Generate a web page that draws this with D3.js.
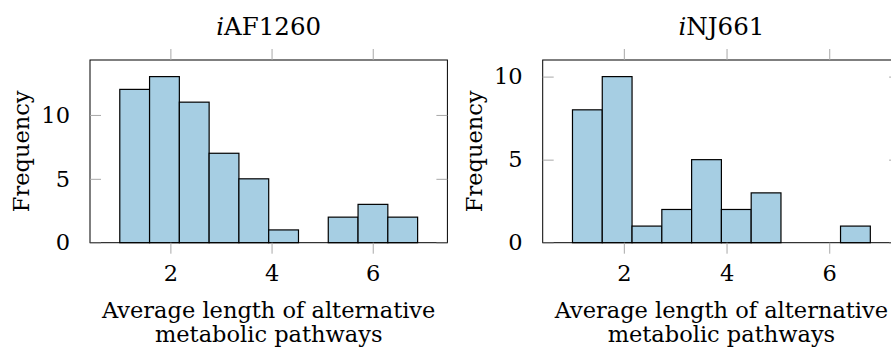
<!DOCTYPE html>
<html>
<head>
<meta charset="utf-8">
<script src="https://cdn.jsdelivr.net/npm/d3@7"></script>
<style>
  html, body { margin: 0; padding: 0; background: #fff; }
  svg { display: block; }
  text { font-family: "DejaVu Serif", "Liberation Serif", serif; fill: #000; }
</style>
</head>
<body>
<svg id="chart" width="891" height="352"></svg>
<script>
// Histogram of average alternative-pathway length, one panel per model
const models = ["AF1260", "NJ661"];
const binRangeAF = [1, 6.887];
const countsAF = [12, 13, 11, 7, 5, 1, 0, 2, 3, 2];
const binRangeNJ = [1, 6.8];
const countsNJ = [8, 10, 1, 2, 5, 2, 3, 0, 0, 1];
const xTicks = [2, 4, 6];
const yTicks = [0, 5, 10];
const xLabelLines = ["Average length of alternative", "metabolic pathways"];
const yLabel = "Frequency";

const svg = d3.select("#chart");
const fontSize = 22.5;
const titleSize = 24.5;

const panels = [
  { name: models[0], range: binRangeAF, counts: countsAF, left: 90 },
  { name: models[1], range: binRangeNJ, counts: countsNJ, left: 542.7 }
];

const plotW = 357.4, plotH = 182.7, plotTop = 60;

panels.forEach(p => {
  const n = p.counts.length;
  const span = p.range[1] - p.range[0];
  const step = span / n;
  const bins = p.counts.map((c, i) => ({ x0: p.range[0] + i * step, x1: p.range[0] + (i + 1) * step, count: c }));

  // pgfplots-style 10% enlargement of the x limits
  const pad = 0.1 * span;
  const x = d3.scaleLinear().domain([p.range[0] - pad, p.range[1] + pad]).range([0, plotW]);
  const yMax = d3.max(p.counts);
  const y = d3.scaleLinear().domain([0, yMax * 1.1]).range([plotH, 0]);

  const g = svg.append("g").attr("transform", `translate(${p.left},${plotTop})`);

  // bars
  g.selectAll("rect.bar").data(bins).join("rect")
    .attr("class", "bar")
    .attr("x", d => x(d.x0))
    .attr("width", d => x(d.x1) - x(d.x0))
    .attr("y", d => y(d.count))
    .attr("height", d => y(0) - y(d.count))
    .attr("fill", "#a6cee3")
    .attr("stroke", "#000")
    .attr("stroke-width", 1.2);

  // frame
  g.append("rect")
    .attr("x", 0).attr("y", 0).attr("width", plotW).attr("height", plotH)
    .attr("fill", "none").attr("stroke", "#000").attr("stroke-width", 1);

  const tickColor = "#a8a8a8";
  const tickLen = 11;

  // x ticks, outside on bottom and top
  const xb = d3.axisBottom(x).tickValues(xTicks).tickSize(tickLen).tickFormat(d3.format("d"));
  const gxb = g.append("g").attr("transform", `translate(0,${plotH})`).call(xb);
  gxb.select(".domain").remove();
  gxb.selectAll(".tick line").attr("stroke", tickColor);
  gxb.selectAll(".tick text")
    .attr("y", 22).attr("dy", "0.71em")
    .style("font-size", fontSize + "px").style("font-family", "DejaVu Serif");

  const xt = d3.axisTop(x).tickValues(xTicks).tickSize(tickLen).tickFormat("");
  const gxt = g.append("g").call(xt);
  gxt.select(".domain").remove();
  gxt.selectAll(".tick line").attr("stroke", tickColor);

  // y ticks, inside on left and right
  const yl = d3.axisLeft(y).tickValues(yTicks).tickSize(-tickLen).tickPadding(tickLen + 9).tickFormat(d3.format("d"));
  const gyl = g.append("g").call(yl);
  gyl.select(".domain").remove();
  gyl.selectAll(".tick line").attr("stroke", tickColor);
  gyl.selectAll(".tick text")
    .style("font-size", fontSize + "px").style("font-family", "DejaVu Serif");

  const yr = d3.axisRight(y).tickValues(yTicks).tickSize(-tickLen).tickFormat("");
  const gyr = g.append("g").attr("transform", `translate(${plotW},0)`).call(yr);
  gyr.select(".domain").remove();
  gyr.selectAll(".tick line").attr("stroke", tickColor);

  // title
  const title = g.append("text")
    .attr("x", plotW / 2).attr("y", -25)
    .attr("text-anchor", "middle")
    .style("font-size", titleSize + "px");
  title.append("tspan").attr("font-style", "italic").text("i");
  title.append("tspan").text(p.name);

  // x label, two lines
  g.append("text")
    .attr("text-anchor", "middle")
    .style("font-size", fontSize + "px")
    .selectAll("tspan").data(xLabelLines).join("tspan")
    .attr("x", plotW / 2)
    .attr("y", (d, i) => 257.5 + i * 24)
    .text(d => d);

  // y label
  g.append("text")
    .attr("transform", `translate(-61,${plotH / 2}) rotate(-90)`)
    .attr("text-anchor", "middle")
    .style("font-size", fontSize + "px")
    .text(yLabel);
});
</script>
</body>
</html>
